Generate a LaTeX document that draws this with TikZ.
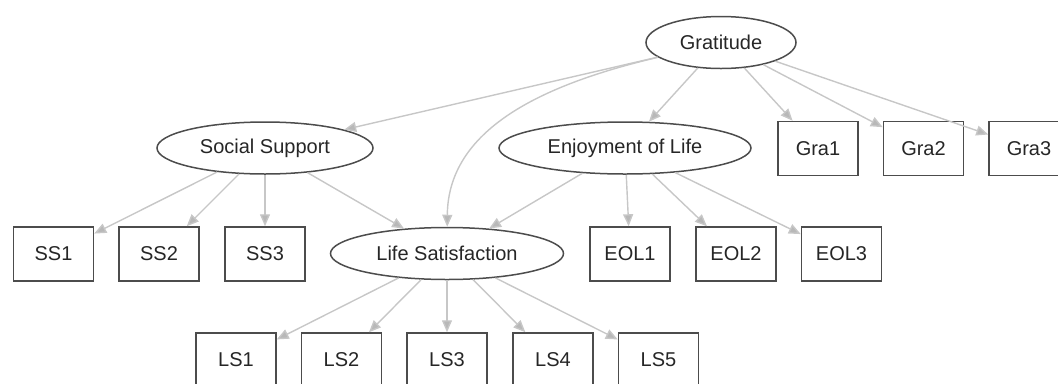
\documentclass[tikz,border=0pt]{standalone}
\usepackage{fontspec}
\setmainfont{Liberation Sans}
\usetikzlibrary{shapes.geometric,arrows.meta}
\newlength{\du}
\setlength{\du}{0.75pt}
\definecolor{nodelinecolor}{rgb}{0.300000, 0.300000, 0.300000}
\definecolor{nodetextcolor}{rgb}{0.150000, 0.150000, 0.150000}
\definecolor{edgelinecolor}{rgb}{0.780000, 0.780000, 0.780000}
\definecolor{edgetipcolor}{rgb}{0.720000, 0.720000, 0.720000}
\tikzset{
  latent/.style={ellipse, draw=nodelinecolor, line width=1.5\du, inner sep=0pt,
    minimum height=52\du, text=nodetextcolor, font=\fontsize{15}{18}\selectfont},
  manifest/.style={rectangle, draw=nodelinecolor, line width=1.5\du, inner sep=0pt,
    minimum width=80\du, minimum height=54\du, text=nodetextcolor, font=\fontsize{15}{18}\selectfont},
  loading/.style={draw=edgelinecolor, line width=1.4\du,
    -{Triangle[length=9pt, width=7.5pt, fill=edgetipcolor]}}
}

\begin{document}
\begin{tikzpicture}
\pgftransformxscale{1.000000}
\pgftransformyscale{-1.000000}
\useasboundingbox (0\du,0\du) rectangle (1058\du,383\du);
% latent variables
\node[latent, minimum width=150\du] (gratitude) at (721\du,42.5\du){Gratitude};
\node[latent, minimum width=216\du] (support) at (265\du,148\du){Social Support};
\node[latent, minimum width=252\du] (enjoy) at (625\du,148\du){Enjoyment of Life};
\node[latent, minimum width=233\du] (satisf) at (447\du,253.5\du){Life Satisfaction};
% indicators
\node[manifest] (gra1) at (818\du,148.5\du){Gra1};
\node[manifest] (gra2) at (923.5\du,148.5\du){Gra2};
\node[manifest] (gra3) at (1029\du,148.5\du){Gra3};
\node[manifest] (ss1) at (53.5\du,254\du){SS1};
\node[manifest] (ss2) at (159\du,254\du){SS2};
\node[manifest] (ss3) at (265\du,254\du){SS3};
\node[manifest] (eol1) at (630\du,254\du){EOL1};
\node[manifest] (eol2) at (736\du,254\du){EOL2};
\node[manifest] (eol3) at (841.5\du,254\du){EOL3};
\node[manifest] (ls1) at (236\du,360\du){LS1};
\node[manifest] (ls2) at (341.5\du,360\du){LS2};
\node[manifest] (ls3) at (447\du,360\du){LS3};
\node[manifest] (ls4) at (553\du,360\du){LS4};
\node[manifest] (ls5) at (658.5\du,360\du){LS5};
% paths
\draw[loading] (gratitude) -- (support);
\draw[loading] (gratitude) .. controls (540\du,85\du) and (448\du,130\du) .. (satisf);
\draw[loading] (gratitude) -- (enjoy);
\draw[loading] (support) -- (satisf);
\draw[loading] (enjoy) -- (satisf);
% loadings
\draw[loading] (gratitude) -- (gra1);
\draw[loading] (gratitude) -- (gra2);
\draw[loading] (gratitude) -- (gra3);
\draw[loading] (support) -- (ss1);
\draw[loading] (support) -- (ss2);
\draw[loading] (support) -- (ss3);
\draw[loading] (enjoy) -- (eol1);
\draw[loading] (enjoy) -- (eol2);
\draw[loading] (enjoy) -- (eol3);
\draw[loading] (satisf) -- (ls1);
\draw[loading] (satisf) -- (ls2);
\draw[loading] (satisf) -- (ls3);
\draw[loading] (satisf) -- (ls4);
\draw[loading] (satisf) -- (ls5);
\end{tikzpicture}
\end{document}
